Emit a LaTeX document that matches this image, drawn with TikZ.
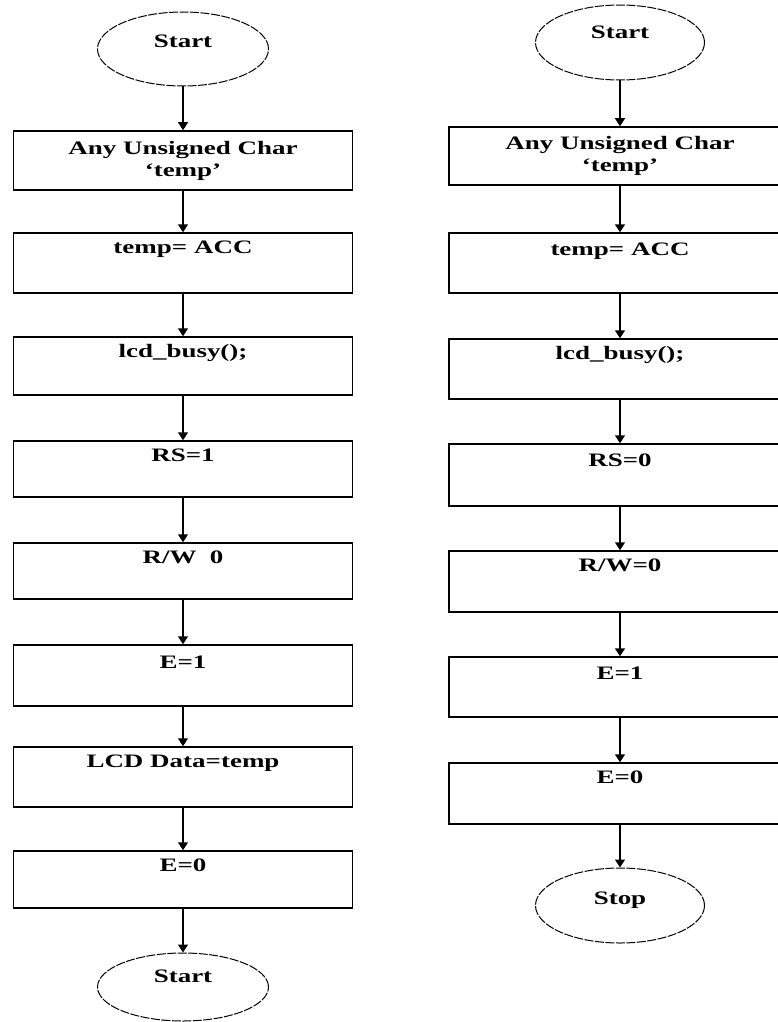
\documentclass[tikz,border=0pt]{standalone}
\usepackage{fontspec}
\setmainfont{Liberation Serif}
\usetikzlibrary{shapes.geometric,arrows.meta}
\newcommand{\wt}[1]{\scalebox{1.42}[1]{#1}}
\tikzset{
  boxL/.style={draw, line width=1.5pt, rectangle, inner sep=0pt, minimum width=339pt},
  boxR/.style={draw, line width=1.5pt, rectangle, inner sep=0pt, minimum width=342pt},
  term/.style={draw, line width=1pt, dash pattern=on 9pt off 1.5pt, ellipse, inner sep=0pt, minimum width=171pt, minimum height=74pt},
  mtxt/.style={font=\fontsize{19}{21}\selectfont\bfseries, align=center},
  txt/.style={font=\fontsize{19}{21}\selectfont\bfseries, inner sep=0pt, text height=13pt, text depth=4pt},
  toptxt/.style={txt, anchor=north, yshift=-8pt},
  midtxt/.style={txt, anchor=center, yshift=6pt},
  flow/.style={line width=1.5pt, -{Triangle[width=10pt,length=8pt]}},
}
\begin{document}
\begin{tikzpicture}[x=1pt,y=-1pt]
\clip (0,0) rectangle (778,1022);
\fill[white] (0,0) rectangle (778,1022);
% left column
\node[term, label={[midtxt]center:\wt{Start}}] (ls) at (183,49) {};
\node[boxL, minimum height=59pt, mtxt] (l1) at (183,160.5) {\wt{Any Unsigned Char}\\[1pt]\wt{`temp'}};
\node[boxL, minimum height=60pt, label={[toptxt]north:\wt{temp= ACC}}] (l2) at (183,263) {};
\node[boxL, minimum height=58pt, label={[toptxt]north:\wt{lcd\_busy();}}] (l3) at (183,366) {};
\node[boxL, minimum height=56pt, label={[toptxt]north:\wt{RS=1}}] (l4) at (183,469) {};
\node[boxL, minimum height=56pt, label={[toptxt]north:\wt{R/W\ \ 0}}] (l5) at (183,571) {};
\node[boxL, minimum height=61pt, label={[toptxt,yshift=-3pt]north:\wt{E=1}}] (l6) at (183,675.5) {};
\node[boxL, minimum height=60pt, label={[toptxt]north:\wt{LCD Data=temp}}] (l7) at (183,777) {};
\node[boxL, minimum height=57pt, label={[toptxt]north:\wt{E=0}}] (l8) at (183,879.5) {};
\node[term, minimum height=68pt, label={[midtxt,yshift=3pt]center:\wt{Start}}] (le) at (183,987) {};
\draw[flow] (ls) -- (l1);
\draw[flow] (l1) -- (l2);
\draw[flow] (l2) -- (l3);
\draw[flow] (l3) -- (l4);
\draw[flow] (l4) -- (l5);
\draw[flow] (l5) -- (l6);
\draw[flow] (l6) -- (l7);
\draw[flow] (l7) -- (l8);
\draw[flow] (l8) -- (le);
% right column
\node[term, minimum width=169pt, minimum height=75pt, label={[midtxt,yshift=2pt]center:\wt{Start}}] (rs) at (620,42.5) {};
\node[boxR, minimum height=58pt, mtxt] (r1) at (620,156) {\wt{Any Unsigned Char}\\[1pt]\wt{`temp'}};
\node[boxR, minimum height=60pt, label={[toptxt,yshift=-2pt]north:\wt{temp= ACC}}] (r2) at (620,263) {};
\node[boxR, minimum height=60pt, label={[toptxt]north:\wt{lcd\_busy();}}] (r3) at (620,369) {};
\node[boxR, minimum height=62pt, label={[toptxt,yshift=-2pt]north:\wt{RS=0}}] (r4) at (620,475) {};
\node[boxR, minimum height=61pt, label={[toptxt]north:\wt{R/W=0}}] (r5) at (620,581.5) {};
\node[boxR, minimum height=60pt, label={[toptxt,yshift=-2pt]north:\wt{E=1}}] (r6) at (620,687) {};
\node[boxR, minimum height=61pt, label={[toptxt]north:\wt{E=0}}] (r7) at (620,793.5) {};
\node[term, minimum width=169pt, minimum height=75pt, label={[midtxt]center:\wt{Stop}}] (re) at (620,905.5) {};
\draw[flow] (rs) -- (r1);
\draw[flow] (r1) -- (r2);
\draw[flow] (r2) -- (r3);
\draw[flow] (r3) -- (r4);
\draw[flow] (r4) -- (r5);
\draw[flow] (r5) -- (r6);
\draw[flow] (r6) -- (r7);
\draw[flow] (r7) -- (re);
\end{tikzpicture}
\end{document}
